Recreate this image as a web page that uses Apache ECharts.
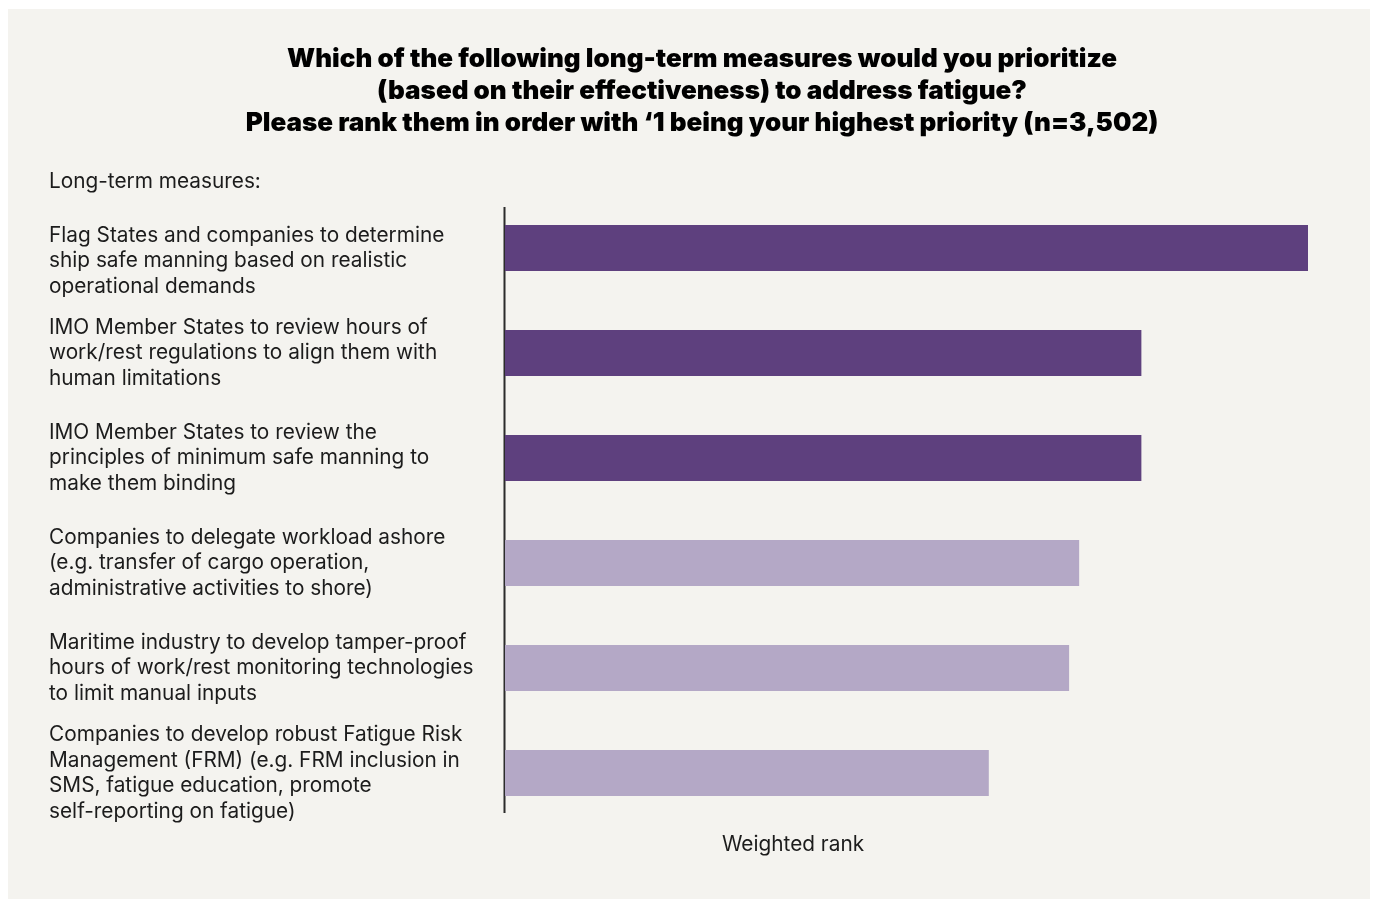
<!DOCTYPE html>
<html>
<head>
<meta charset="utf-8">
<script src="https://cdn.jsdelivr.net/npm/echarts@6/dist/echarts.min.js"></script>
<style>
  html, body { margin: 0; padding: 0; background: #ffffff; }
  #panel { position: absolute; left: 8px; top: 9px; width: 1362px; height: 890px; background: #f4f3ef; }
  #chart { position: absolute; left: 0; top: 0; width: 1375px; height: 899px; }
</style>
</head>
<body>
<div id="panel"></div>
<div id="chart"></div>
<script>
// Long-term fatigue measures, top to bottom
const categories = [
  'Flag States and companies to determine\nship safe manning based on realistic\noperational demands',
  'IMO Member States to review hours of\nwork/rest regulations to align them with\nhuman limitations',
  'IMO Member States to review the\nprinciples of minimum safe manning to\nmake them binding',
  'Companies to delegate workload ashore\n(e.g. transfer of cargo operation,\nadministrative activities to shore)',
  'Maritime industry to develop tamper-proof\nhours of work/rest monitoring technologies\nto limit manual inputs',
  'Companies to develop robust Fatigue Risk\nManagement (FRM) (e.g. FRM inclusion in\nSMS, fatigue education, promote\nself-reporting on fatigue)'
];
// Weighted rank scores
const weightedRank = [4.00, 3.17, 3.17, 2.86, 2.81, 2.41];
// Top three measures are highlighted
const highlighted = [true, true, true, false, false, false];

const DARK = '#5e407e';
const LIGHT = '#b4a8c6';
const TEXT = '#1c1c1c';
const FONT = 'Inter, "Noto Sans", sans-serif';
const LABEL_SIZE = 20.8;

const chart = echarts.init(document.getElementById('chart'), null, { renderer: 'canvas' });

chart.setOption({
  backgroundColor: 'transparent',
  animation: false,
  title: {
    text: 'Which of the following long-term measures would you prioritize\n(based on their effectiveness) to address fatigue?\nPlease rank them in order with \u20181 being your highest priority (n=3,502)',
    left: 697,
    top: 38,
    textAlign: 'center',
    textStyle: {
      fontFamily: FONT,
      fontWeight: 900,
      fontSize: 26,
      lineHeight: 32,
      color: '#000000'
    }
  },
  grid: {
    left: 505,
    right: 67,
    top: 195.5,
    height: 630,
    containLabel: false,
    outerBoundsMode: 'none'
  },
  xAxis: {
    type: 'value',
    min: 0,
    max: 4,
    show: false
  },
  yAxis: {
    type: 'category',
    inverse: true,
    data: categories,
    axisLine: { show: false },
    axisTick: { show: false },
    axisLabel: {
      margin: 456,
      align: 'left',
      verticalAlign: 'middle',
      fontFamily: FONT,
      fontSize: LABEL_SIZE,
      lineHeight: 25.5,
      color: TEXT,
      // the first block sits a little lower, level with the top of its bar
      formatter: (value, index) => (index === 0 ? '\n' + value : value)
    }
  },
  series: [{
    type: 'bar',
    barWidth: 46,
    data: weightedRank.map((v, i) => ({
      value: v,
      itemStyle: { color: highlighted[i] ? DARK : LIGHT }
    }))
  }],
  graphic: [
    {
      type: 'text',
      x: 49,
      y: 182,
      style: {
        text: 'Long-term measures:',
        font: LABEL_SIZE + 'px ' + FONT,
        fill: TEXT,
        verticalAlign: 'middle'
      }
    },
    {
      type: 'line',
      shape: { x1: 504.5, y1: 207, x2: 504.5, y2: 813 },
      style: { stroke: '#2b2b2b', lineWidth: 2 }
    },
    {
      type: 'text',
      x: 793,
      y: 845,
      style: {
        text: 'Weighted rank',
        font: LABEL_SIZE + 'px ' + FONT,
        fill: TEXT,
        align: 'center',
        verticalAlign: 'middle'
      }
    }
  ]
});
</script>
</body>
</html>
